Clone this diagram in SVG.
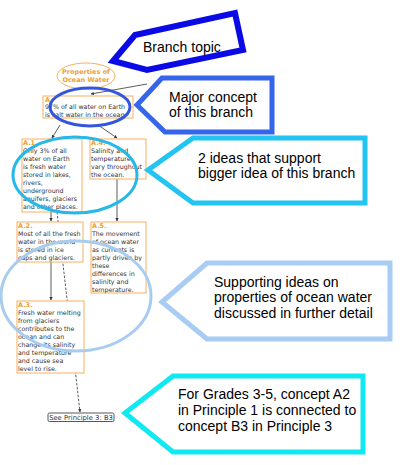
<svg xmlns="http://www.w3.org/2000/svg" width="400" height="465" viewBox="0 0 400 465">
<defs>
<marker id="ah" viewBox="0 0 10 10" refX="9" refY="5" markerWidth="4" markerHeight="4" orient="auto"><path d="M0,0 L10,5 L0,10 z" fill="#333"/></marker>
<style>
.box{fill:#fff;stroke:#f5b060;stroke-width:1}
.lbl{font-family:"DejaVu Sans",sans-serif;font-size:6.5px;font-weight:bold;fill:#f0a030}
.t{font-family:"DejaVu Sans",sans-serif;font-size:6.3px;fill:#333}
.c{fill:none;stroke:#333;stroke-width:0.8}
.d{fill:none;stroke:#333;stroke-width:0.8;stroke-dasharray:2.5,1.5}
.call{fill:#fff;stroke-linejoin:miter}
.ct{font-family:"Liberation Sans",Arial,sans-serif;font-size:14px;fill:#000}
.ell{fill:none;stroke-width:3}
</style>
</defs>
<g id="connectors">
<line class="c" x1="147" y1="84" x2="91" y2="94" marker-end="url(#ah)"/>
<line class="c" x1="60" y1="125" x2="52" y2="138" marker-end="url(#ah)"/>
<line class="c" x1="98" y1="125" x2="117" y2="138" marker-end="url(#ah)"/>
<line class="c" x1="51" y1="212" x2="51" y2="221" marker-end="url(#ah)"/>
<line class="c" x1="117" y1="179" x2="117" y2="221" marker-end="url(#ah)"/>
<line class="c" x1="51" y1="262" x2="51" y2="300" marker-end="url(#ah)"/>
<line class="d" x1="57" y1="212" x2="80" y2="412" marker-end="url(#ah)"/>
</g>
<g id="topic">
<ellipse cx="86" cy="76" rx="29" ry="13" fill="#fff" stroke="#f5b060" stroke-width="1"/>
<text class="lbl" x="86" y="74" text-anchor="middle">Properties of</text>
<text class="lbl" x="86" y="82" text-anchor="middle">Ocean Water</text>
</g>
<g id="nodeA">
<rect class="box" x="43" y="96" width="90" height="22"/>
<text class="lbl" x="45" y="102">A.</text>
<text class="t" x="45" y="109">97% of all water on Earth</text>
<text class="t" x="45" y="117">is salt water in the ocean.</text>
</g>
<g id="nodeA1">
<rect class="box" x="22" y="139" width="60" height="73"/>
<text class="lbl" x="23" y="145">A.1.</text>
<text class="t" x="23" y="153">Only 3% of all</text>
<text class="t" x="23" y="161">water on Earth</text>
<text class="t" x="23" y="169">is fresh water</text>
<text class="t" x="23" y="177">stored in lakes,</text>
<text class="t" x="23" y="185">rivers,</text>
<text class="t" x="23" y="193">underground</text>
<text class="t" x="23" y="201">aquifers, glaciers</text>
<text class="t" x="23" y="209">and other places.</text>
</g>
<g id="nodeA4">
<rect class="box" x="90" y="139" width="56" height="40"/>
<text class="lbl" x="91" y="145">A.4.</text>
<text class="t" x="91" y="153">Salinity and</text>
<text class="t" x="91" y="161">temperature</text>
<text class="t" x="91" y="169">vary throughout</text>
<text class="t" x="91" y="177">the ocean.</text>
</g>
<g id="nodeA2">
<rect class="box" x="17" y="222" width="66" height="40"/>
<text class="lbl" x="18" y="228">A.2.</text>
<text class="t" x="18" y="236">Most of all the fresh</text>
<text class="t" x="18" y="244">water in the world</text>
<text class="t" x="18" y="252">is stored in ice</text>
<text class="t" x="18" y="260">caps and glaciers.</text>
</g>
<g id="nodeA5">
<rect class="box" x="91" y="222" width="55" height="71"/>
<text class="lbl" x="92" y="228">A.5.</text>
<text class="t" x="92" y="236">The movement</text>
<text class="t" x="92" y="244">of ocean water</text>
<text class="t" x="92" y="252">as currents is</text>
<text class="t" x="92" y="260">partly driven by</text>
<text class="t" x="92" y="268">these</text>
<text class="t" x="92" y="276">differences in</text>
<text class="t" x="92" y="284">salinity and</text>
<text class="t" x="92" y="292">temperature.</text>
</g>
<g id="nodeA3">
<rect class="box" x="17" y="301" width="67" height="72"/>
<text class="lbl" x="18" y="307">A.3.</text>
<text class="t" x="18" y="315">Fresh water melting</text>
<text class="t" x="18" y="323">from glaciers</text>
<text class="t" x="18" y="331">contributes to the</text>
<text class="t" x="18" y="339">ocean and can</text>
<text class="t" x="18" y="347">change its salinity</text>
<text class="t" x="18" y="355">and temperature</text>
<text class="t" x="18" y="363">and cause sea</text>
<text class="t" x="18" y="371">level to rise.</text>
</g>
<g id="nodeB3">
<rect x="48" y="413" width="66" height="8.5" rx="1.5" fill="#fff" stroke="#444" stroke-width="0.9"/>
<text class="t" x="81" y="419.6" text-anchor="middle" style="font-size:6.8px">See Principle 3: B3</text>
</g>
<g id="highlights">
<ellipse class="ell" cx="90" cy="107" rx="40" ry="19" stroke="#3555dd"/>
<ellipse class="ell" cx="75" cy="175" rx="62" ry="38" stroke="#28b8e8"/>
<ellipse class="ell" cx="76" cy="296" rx="75" ry="55" stroke="#a8ccf0"/>
</g>
<g id="callout1">
<polygon class="call" points="113,61 135,35 235,13 243,50 147,70" stroke="#0a0ae6" stroke-width="6"/>
<text class="ct" x="143" y="52">Branch topic</text>
</g>
<g id="callout2">
<polygon class="call" points="137,105 162,78 272,78 272,132 165,132" stroke="#3565ea" stroke-width="5"/>
<text class="ct" x="169" y="102">Major concept</text>
<text class="ct" x="169" y="117">of this branch</text>
</g>
<g id="callout3">
<polygon class="call" points="148,170 193,138 365,138 365,203 193,203" stroke="#22c4f2" stroke-width="5"/>
<text class="ct" x="198" y="163">2 ideas that support</text>
<text class="ct" x="198" y="178">bigger idea of this branch</text>
</g>
<g id="callout4">
<polygon class="call" points="162,302 207,263 390,263 390,339 207,339" stroke="#a8ccf2" stroke-width="5"/>
<text class="ct" x="214" y="287">Supporting ideas on</text>
<text class="ct" x="214" y="302">properties of ocean water</text>
<text class="ct" x="214" y="318">discussed in further detail</text>
</g>
<g id="callout5">
<polygon class="call" points="125,413 173,376 363,376 363,452 173,452" stroke="#10e8f2" stroke-width="5"/>
<text class="ct" x="178" y="399">For Grades 3-5, concept A2</text>
<text class="ct" x="178" y="415">in Principle 1 is connected to</text>
<text class="ct" x="178" y="431">concept B3 in Principle 3</text>
</g>
</svg>
